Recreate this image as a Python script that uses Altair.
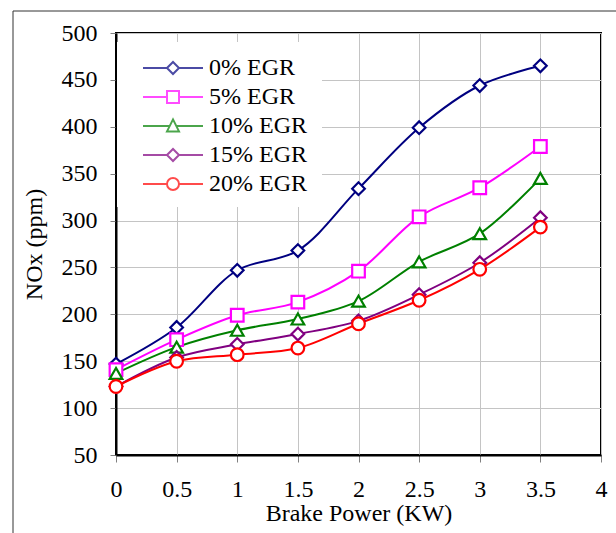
import altair as alt
import pandas as pd

# Brake power (kW) at which NOx was measured
power = [0, 0.5, 1, 1.5, 2, 2.5, 3, 3.5]

# EGR rates and measured NOx (ppm)
series = ["0% EGR", "5% EGR", "10% EGR", "15% EGR", "20% EGR"]
nox_0 = [147, 186, 247, 268, 334, 399, 444, 465]
nox_5 = [141, 173, 199, 213, 246, 304, 335, 379]
nox_10 = [137, 165, 183, 195, 214, 256, 286, 345]
nox_15 = [123, 154, 168, 179, 193, 221, 255, 303]
nox_20 = [123, 150, 157, 164, 190, 215, 248, 293]

x_ticks = [0, 0.5, 1, 1.5, 2, 2.5, 3, 3.5, 4]
y_ticks = [50, 100, 150, 200, 250, 300, 350, 400, 450, 500]

colors = ["#000080", "#FF00FF", "#008000", "#800080", "#FF0000"]
shapes = ["diamond", "square", "triangle-up", "diamond", "circle"]
# legend keys: a short line with the marker in the middle
legend_keys = [
    "M-5,0H-1M1,0H5M-1,0L0,-1L1,0L0,1Z",
    "M-5,0H-1M1,0H5M-1,-1H1V1H-1Z",
    "M-5,0H-0.55M0.55,0H5M0,-1.1L1,0.9H-1Z",
    "M-5,0H-1M1,0H5M-1,0L0,-1L1,0L0,1Z",
    "M-5,0H-1M1,0H5M1,0A1,1,0,1,1,-1,0A1,1,0,1,1,1,0Z",
]

rows = []
for name, vals in zip(series, [nox_0, nox_5, nox_10, nox_15, nox_20]):
    for p, v in zip(power, vals):
        rows.append({"power": p, "nox": v, "series": name})
df = pd.DataFrame(rows)

SERIF = "Liberation Serif"

x_enc = alt.X(
    "power:Q",
    scale=alt.Scale(domain=[0, 4], nice=False),
    axis=alt.Axis(
        values=x_ticks, format="~g", title="Brake Power (KW)",
        titleBaseline="alphabetic", titleY=65, labelFlush=False,
    ),
)
y_enc = alt.Y(
    "nox:Q",
    scale=alt.Scale(domain=[50, 500], nice=False),
    axis=alt.Axis(
        values=y_ticks, title="NOx (ppm)",
        titleBaseline="alphabetic", titleX=-75, titleAngle=-90, labelFlush=False,
    ),
)

color_scale = alt.Scale(domain=series, range=colors)

lines = alt.Chart(df).mark_line(
    interpolate="catmull-rom", strokeWidth=2
).encode(
    x=x_enc, y=y_enc,
    stroke=alt.Stroke("series:N", scale=color_scale, legend=None),
    detail="series:N",
)

points = alt.Chart(df).mark_point(
    filled=False, fill="white", fillOpacity=1, strokeWidth=2.2, size=160, opacity=1
).encode(
    x=x_enc, y=y_enc,
    stroke=alt.Stroke("series:N", scale=color_scale, legend=None),
    shape=alt.Shape("series:N", scale=alt.Scale(domain=series, range=shapes), legend=None),
)

legend = alt.Legend(
    orient="none", legendX=45, legendY=23, title=None,
    symbolSize=144, symbolStrokeWidth=2, symbolFillColor="transparent",
    labelFont=SERIF, labelFontSize=24, labelColor="black",
    rowPadding=5, labelOffset=24, padding=0,
)

legend_layer = alt.Chart(df).mark_point(
    filled=False, strokeWidth=2, size=144
).encode(
    x=x_enc, y=y_enc,
    stroke=alt.Stroke("series:N", scale=alt.Scale(domain=series, range=colors), legend=legend),
    shape=alt.Shape("series:N", scale=alt.Scale(domain=series, range=legend_keys), legend=legend),
).transform_filter("false")

# white panel behind the legend hides the gridlines
legend_bg = alt.Chart(alt.Data(values=[{"k": 1}])).mark_rect(fill="white").encode(
    x=alt.value(1), x2=alt.value(206), y=alt.value(9), y2=alt.value(174)
)

# thin outer frame around the whole figure
frame = alt.Chart(alt.Data(values=[{"k": 1}])).mark_rect(
    fillOpacity=0, stroke="#333333", strokeWidth=1
).encode(
    x=alt.value(-103), x2=alt.value(560), y=alt.value(-22), y2=alt.value(560)
)

chart = alt.layer(
    legend_bg, lines, points, legend_layer, frame
).resolve_scale(
    stroke="independent", shape="independent"
).properties(
    width=485, height=422,
    padding={"left": 116, "top": 33, "right": 15, "bottom": 78},
    autosize=alt.AutoSizeParams(type="none"),
    background="white",
).configure_view(
    stroke="black", strokeWidth=2
).configure_axis(
    labelFont=SERIF, labelFontSize=24, labelColor="black",
    titleFont=SERIF, titleFontSize=24, titleColor="black", titleFontWeight="normal",
    domainColor="black", domainWidth=2,
    tickColor="#808080", tickSize=7, tickWidth=1,
    gridColor="#c4c4c4", gridWidth=1,
).configure_axisX(
    labelPadding=15,
).configure_axisY(
    labelPadding=13, tickSize=6,
)

chart.save("out.html", embed_options={"renderer": "svg", "actions": False})
